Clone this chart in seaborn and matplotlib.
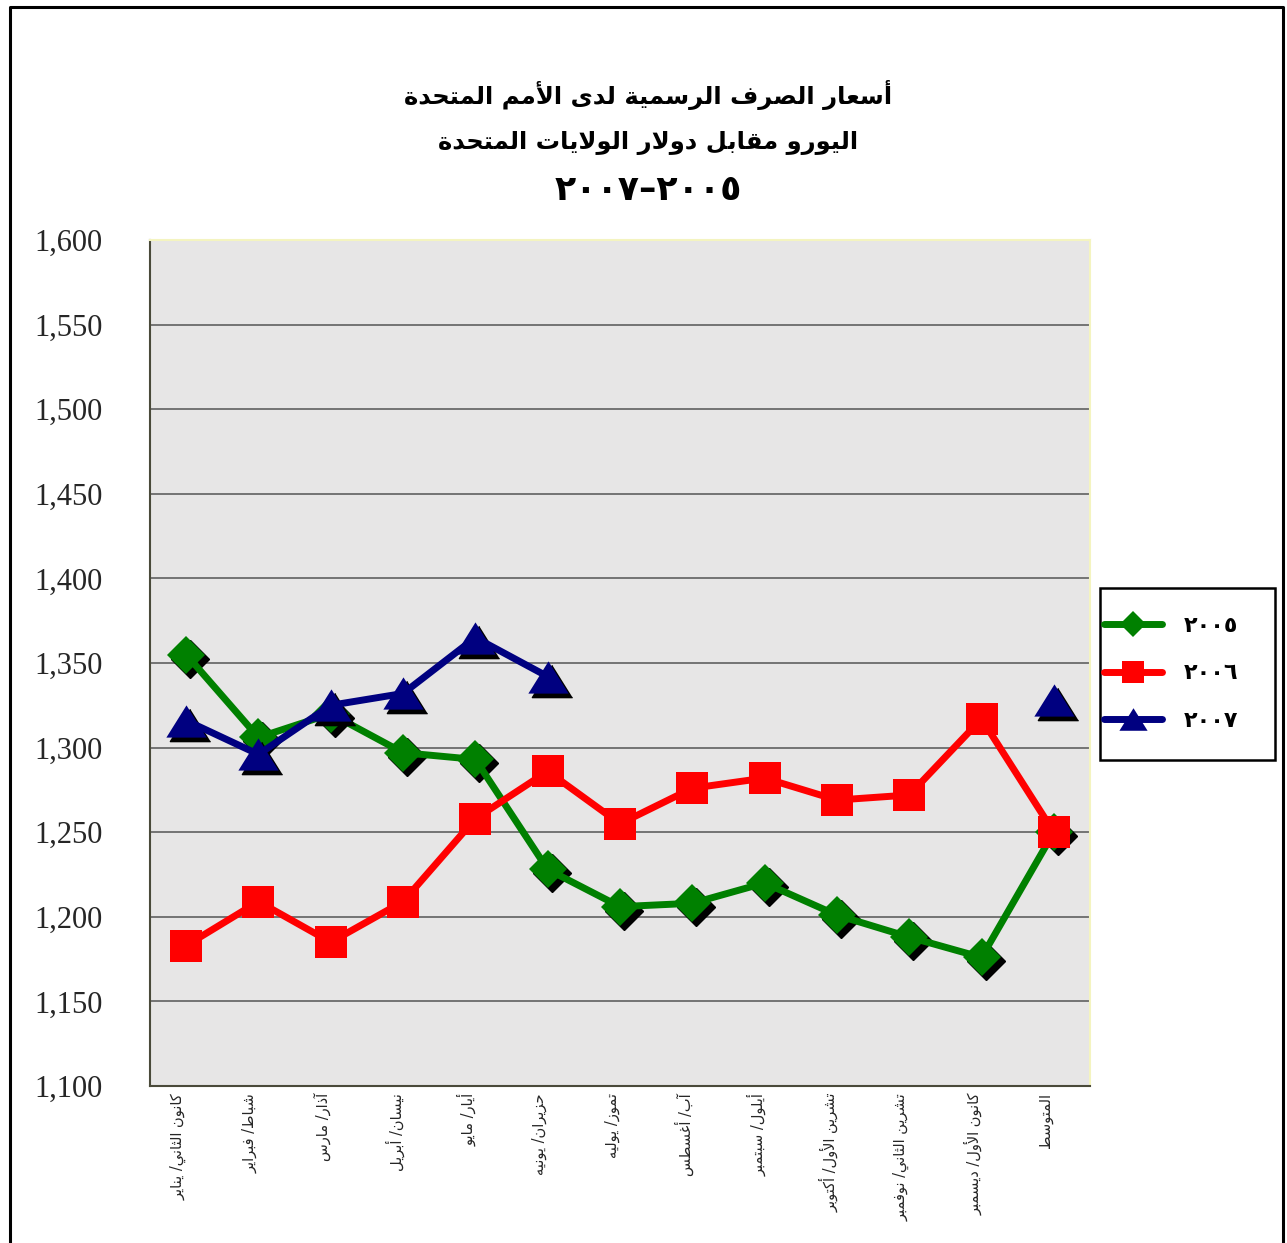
import numpy as np
import pandas as pd
import matplotlib
matplotlib.use("Agg")
import matplotlib.pyplot as plt
import matplotlib.transforms as mtransforms
from matplotlib.lines import Line2D
from matplotlib.patches import Rectangle
from matplotlib.ticker import FuncFormatter, FixedLocator
import seaborn as sns

# Data
months = ["كانون الثاني/ يناير", "شباط/ فبراير", "آذار/ مارس", "نيسان/ أبريل",
          "أيار/ مايو", "حزيران/ يونيه", "تموز/ يوليه", "آب/ أغسطس",
          "أيلول/ سبتمبر", "تشرين الأول/ أكتوبر", "تشرين الثاني/ نوفمبر",
          "كانون الأول/ ديسمبر", "المتوسط"]
rate_2005 = [1.355, 1.306, 1.320, 1.297, 1.293, 1.228, 1.206, 1.208, 1.220,
             1.201, 1.188, 1.176, 1.250]
rate_2006 = [1.183, 1.209, 1.185, 1.209, 1.258, 1.286, 1.255, 1.276, 1.282,
             1.269, 1.272, 1.317, 1.250]
rate_2007 = [1.316, 1.296, 1.325, 1.332, 1.365, 1.342, None, None, None,
             None, None, None, 1.328]
years = ["٢٠٠٥", "٢٠٠٦", "٢٠٠٧"]
title_lines = ["أسعار الصرف الرسمية لدى الأمم المتحدة",
               "اليورو مقابل دولار الولايات المتحدة"]
title_years = "٢٠٠٧–٢٠٠٥"  # already in visual order
y_ticks = [1.10, 1.15, 1.20, 1.25, 1.30, 1.35, 1.40, 1.45, 1.50, 1.55, 1.60]


# --- minimal Arabic shaping (matplotlib has no bidi / joining) ---
RIGHT_ONLY = set("آأؤإاةدذرزوى")
FORMS = {}
_code = 0xFE80
for _c in list(range(0x621, 0x63B)) + list(range(0x641, 0x64B)):
    ch = chr(_c)
    n = 1 if ch == "ء" else (2 if ch in RIGHT_ONLY else 4)
    FORMS[ch] = [chr(_code + k) for k in range(n)]
    _code += n
LAM_ALEF = {"آ": 0xFEF5, "أ": 0xFEF7, "إ": 0xFEF9, "ا": 0xFEFB}


def shape(text):
    toks = []
    i = 0
    while i < len(text):
        if text[i] == "ل" and i + 1 < len(text) and text[i + 1] in LAM_ALEF:
            toks.append(("LA", text[i + 1]))
            i += 2
        else:
            toks.append(("C", text[i]))
            i += 1

    def dual(t):
        return t[0] == "C" and len(FORMS.get(t[1], [])) == 4

    def joinable(t):
        return t[0] == "LA" or (t[1] in FORMS and t[1] != "ء")

    out = []
    for k, t in enumerate(toks):
        prev = k > 0 and dual(toks[k - 1]) and joinable(t)
        if t[0] == "LA":
            out.append(chr(LAM_ALEF[t[1]] + (1 if prev else 0)))
            continue
        if t[1] not in FORMS:
            out.append(t[1])
            continue
        nxt = dual(t) and k + 1 < len(toks) and joinable(toks[k + 1])
        idx = 3 if (prev and nxt) else 1 if prev else 2 if nxt else 0
        out.append(FORMS[t[1]][idx])
    return "".join(reversed(out))


def runs(y):
    ok = ~np.isnan(y)
    segs, start = [], None
    for i, v in enumerate(ok):
        if v and start is None:
            start = i
        if not v and start is not None:
            segs.append((start, i))
            start = None
    if start is not None:
        segs.append((start, len(y)))
    return segs


sns.set_style("white")
plt.rcParams["font.family"] = ["DejaVu Sans"]

fig = plt.figure(figsize=(12.87, 12.43), dpi=100)
ax = fig.add_axes([150 / 1287, 1 - 1086 / 1243, 940 / 1287, 846 / 1243])
ax.set_facecolor("#e7e6e6")

x = np.arange(len(months))
shadow_tr = mtransforms.offset_copy(ax.transData, fig=fig, x=4, y=-4, units="dots")
tri = [(0, 0.8), (-1, -0.8), (1, -0.8)]

series = [
    (years[0], rate_2005, "#008000", "D", 19, True, 3),
    (years[1], rate_2006, "#ff0000", "s", 23, False, 5),
    (years[2], rate_2007, "#000080", tri, 29, True, 7),
]

handles = []
for name, vals, color, marker, ms, shadow, z in series:
    y = np.array([np.nan if v is None else v for v in vals], dtype=float)
    if shadow:
        ax.plot(x, y, ls="none", marker=marker, ms=ms, color="black",
                mec="black", transform=shadow_tr, zorder=z)
    for a, b in runs(y):
        df = pd.DataFrame({"x": x[a:b], "y": y[a:b]})
        sns.lineplot(data=df, x="x", y="y", ax=ax, color=color, lw=5,
                     marker=marker, ms=ms, mec=color, mew=0, zorder=z + 0.5)
    handles.append(ax.lines[-1])

if ax.get_legend() is not None:
    ax.get_legend().remove()

ax.set_xlim(-0.5, len(months) - 0.5)
ax.set_ylim(1.10, 1.60)
ax.set_xlabel("")
ax.set_ylabel("")

ax.yaxis.set_major_locator(FixedLocator(y_ticks))
ax.yaxis.set_major_formatter(FuncFormatter(lambda v, p: f"{v:.3f}".replace(".", ",")))
ax.grid(axis="y", color="#6a6a6a", lw=1.3)
ax.grid(axis="x", visible=False)
ax.set_axisbelow(True)

ax.set_xticks(x)
ax.set_xticklabels([shape(m) for m in months], rotation=90, fontsize=10.5,
                   family=["DejaVu Sans"])
ax.set_xticks(np.arange(-0.5, len(months), 1.0), minor=True)
ax.tick_params(axis="x", which="major", length=0, pad=5)
ax.tick_params(axis="x", which="minor", length=9, width=1.2, color="#333333",
               direction="out")
ax.tick_params(axis="y", length=9, width=1.2, color="#333333", direction="out",
               pad=25, labelsize=22)
for lab in ax.get_yticklabels():
    lab.set_family(["Liberation Serif"])
shift = mtransforms.ScaledTranslation(-8 / 100, 0, fig.dpi_scale_trans)
for lab in ax.get_xticklabels():
    lab.set_transform(lab.get_transform() + shift)

for side in ["left", "bottom"]:
    ax.spines[side].set_color("#4a4a3a")
    ax.spines[side].set_linewidth(1.5)
for side in ["top", "right"]:
    ax.spines[side].set_color("#f4f4c0")
    ax.spines[side].set_linewidth(1.5)

# title
for txt, yy in zip(title_lines, [1 - 95 / 1243, 1 - 143 / 1243]):
    fig.text(648 / 1287, yy, shape(txt), ha="center", va="center",
             fontsize=17.5, fontweight="bold", color="black",
             family=["DejaVu Sans"])
fig.text(648 / 1287, 1 - 190 / 1243, title_years, ha="center", va="center",
         fontsize=25, fontweight="bold", color="black", family=["DejaVu Sans"])

# legend: entries without frame, frame drawn separately
leg = fig.legend(handles, years, loc="upper left",
                 bbox_to_anchor=(1104 / 1287, 1 - 616 / 1243),
                 borderaxespad=0, borderpad=0, frameon=False,
                 handlelength=2.6, handletextpad=1.0, labelspacing=1.23,
                 markerscale=0.7,
                 prop=dict(family="DejaVu Sans", weight="bold", size=16))
for t in leg.get_texts():
    t.set_color("black")
fig.add_artist(Rectangle((1100 / 1287, 1 - 760 / 1243), 175 / 1287, 172 / 1243,
                         fill=False, ec="black", lw=1.8,
                         transform=fig.transFigure))

# figure border (open at the bottom)
fig.add_artist(Line2D([10 / 1287, 10 / 1287, 1283 / 1287, 1283 / 1287],
                      [0, 1 - 7 / 1243, 1 - 7 / 1243, 0],
                      transform=fig.transFigure, color="black", lw=2.2))

fig.savefig("out.png", dpi=100)
